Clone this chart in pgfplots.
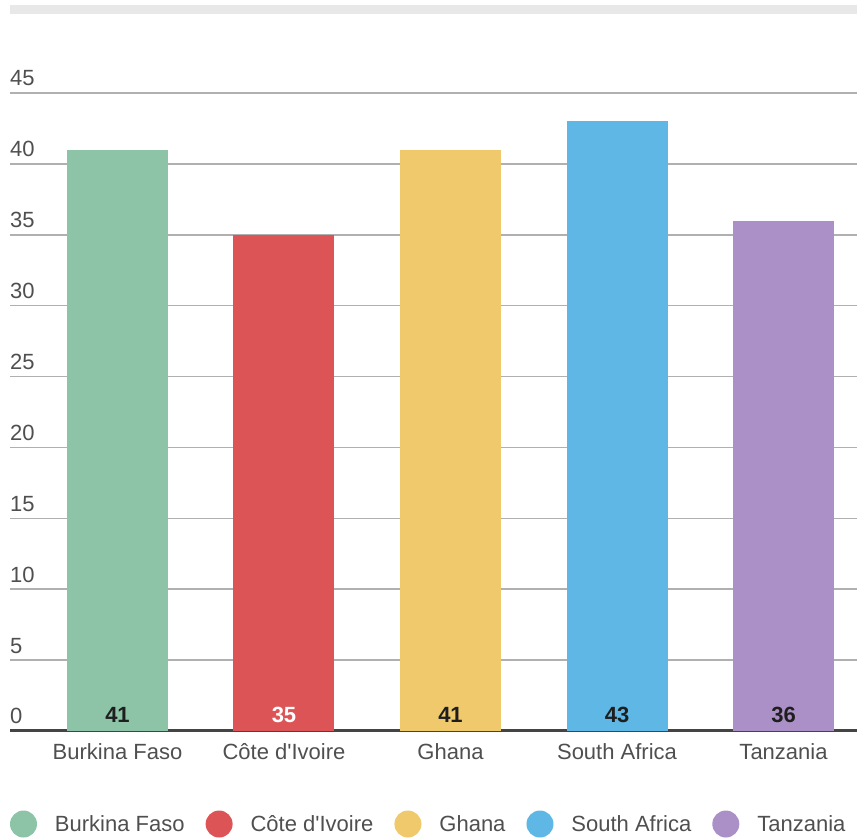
\documentclass[border=0pt]{standalone}
\usepackage{fontspec}
\setmainfont{Liberation Sans}
\usepackage{pgfplots}
\pgfplotsset{compat=1.18}

\definecolor{cBF}{HTML}{8DC3A7}
\definecolor{cCI}{HTML}{DD5456}
\definecolor{cGH}{HTML}{EFC96B}
\definecolor{cSA}{HTML}{5EB7E4}
\definecolor{cTZ}{HTML}{AB90C8}
\definecolor{labelgray}{HTML}{4F4F4F}
\definecolor{gridgray}{HTML}{B0B0B0}
\definecolor{axisdark}{HTML}{444444}
\definecolor{valdark}{HTML}{1E1E1E}
\definecolor{topband}{HTML}{E8E8E8}

\newcommand\f{\fontsize{22}{26}\selectfont}

\begin{document}
\begin{tikzpicture}
\path[use as bounding box] (0pt,0pt) rectangle (857pt,838pt);
\fill[topband] (10pt,824pt) rectangle (857pt,833pt);
\begin{axis}[
    at={(10pt,107pt)}, anchor=south west,
    scale only axis,
    width=847pt, height=638pt,
    xmin=-0.6456, xmax=4.4414,
    ymin=0, ymax=45,
    clip=false,
    axis line style={draw=none},
    major tick length=0pt,
    ytick={5,10,...,45},
    extra y ticks={0},
    extra y tick style={grid style={draw=axisdark, line width=3pt}},
    ymajorgrids,
    grid style={draw=gridgray, line width=1.5pt},
    /pgf/number format/assume math mode=true,
    yticklabel style={anchor=base west, inner sep=0pt, yshift=7pt, font=\f, text=labelgray},
    xtick={0,...,4},
    xticklabels={Burkina Faso,Côte d\textquotesingle Ivoire,Ghana,South Africa,Tanzania},
    xticklabel style={anchor=base, inner sep=0pt, yshift=-28pt, font=\f, text=labelgray},
    legend columns=5,
    legend image code/.code={\fill[#1,draw=none] (0pt,0pt) circle (13.5pt);},
    legend style={at={(0,-0.1458)}, anchor=west, draw=none, fill=none,
        inner sep=0pt, outer sep=0pt, font=\f, text=labelgray,
        nodes={inner sep=0pt},
        /tikz/every even column/.append style={column sep=21pt},
        /tikz/every odd column/.append style={column sep=18pt}},
]
\addplot[ybar, bar width=101pt, bar shift=0pt, fill=cBF, draw=none] coordinates {(0,41)};
\addlegendentry{Burkina Faso}
\addplot[ybar, bar width=101pt, bar shift=0pt, fill=cCI, draw=none] coordinates {(1,35)};
\addlegendentry{Côte d\textquotesingle Ivoire}
\addplot[ybar, bar width=101pt, bar shift=0pt, fill=cGH, draw=none] coordinates {(2,41)};
\addlegendentry{Ghana}
\addplot[ybar, bar width=101pt, bar shift=0pt, fill=cSA, draw=none] coordinates {(3,43)};
\addlegendentry{South Africa}
\addplot[ybar, bar width=101pt, bar shift=0pt, fill=cTZ, draw=none] coordinates {(4,36)};
\addlegendentry{Tanzania}
% value labels at the foot of each bar
\addplot[forget plot, draw=none, mark=none, point meta=explicit, nodes near coords,
    nodes near coords style={anchor=base, inner sep=0pt, yshift=8.3pt, font=\f\bfseries, text=valdark}]
    coordinates {(0,0) [41] (2,0) [41] (3,0) [43] (4,0) [36]};
\addplot[forget plot, draw=none, mark=none, point meta=explicit, nodes near coords,
    nodes near coords style={anchor=base, inner sep=0pt, yshift=8.3pt, font=\f\bfseries, text=white}]
    coordinates {(1,0) [35]};
\end{axis}
\end{tikzpicture}
\end{document}
